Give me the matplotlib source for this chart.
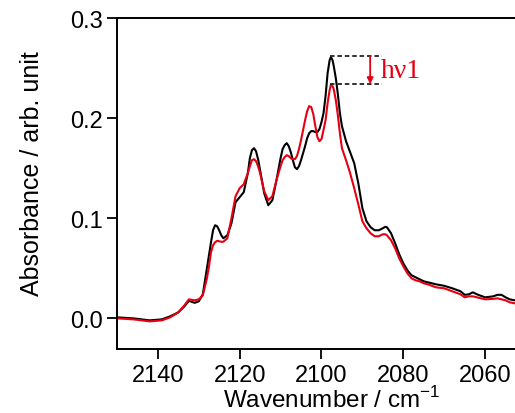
import matplotlib
matplotlib.use("Agg")
import matplotlib.pyplot as plt

plt.rcParams['font.family'] = ['Liberation Sans', 'DejaVu Sans']
plt.rcParams['mathtext.fontset'] = 'custom'
plt.rcParams['mathtext.rm'] = 'Liberation Sans'

wn = [2150, 2146, 2142, 2139, 2137, 2135, 2133.5, 2132.4, 2131, 2130, 2129, 2128,
      2127.5, 2127, 2126.5, 2126, 2125.5, 2125, 2124.5, 2124, 2123, 2122, 2121, 2120, 2119, 2118,
      2117.5, 2117, 2116.5, 2116, 2115.5, 2115, 2114, 2113, 2112, 2111, 2110, 2109.5, 2109, 2108.5,
      2108, 2107.5, 2107, 2106.5, 2106, 2105.5, 2105, 2104,
      2103.5, 2103, 2102.5, 2102, 2101.5, 2101, 2100.5, 2100, 2099.5, 2099, 2098.5, 2098, 2097.7,
      2097.3, 2097, 2096.5, 2096, 2095.5, 2095, 2094, 2093, 2092, 2091, 2090, 2089, 2088, 2087,
      2086, 2085, 2084.4, 2084, 2083, 2082, 2081, 2080,
      2079, 2078, 2077, 2076, 2075, 2074, 2072, 2070, 2068, 2066, 2065, 2064, 2063, 2062, 2060,
      2058, 2057, 2056, 2055, 2054, 2052.7]

# before irradiation (black)
absorb_before = [0.001, 0.000, -0.002, -0.001, 0.002, 0.006, 0.012, 0.0175, 0.0155, 0.017, 0.024, 0.050,
                 0.063, 0.076, 0.088, 0.093, 0.092, 0.088, 0.083, 0.080, 0.083, 0.095, 0.116, 0.121, 0.126, 0.145,
                 0.160, 0.168, 0.170, 0.167, 0.159, 0.148, 0.125, 0.113, 0.118, 0.138, 0.160, 0.169, 0.173, 0.175,
                 0.172, 0.166, 0.158, 0.151, 0.149, 0.152, 0.158, 0.172,
                 0.180, 0.185, 0.187, 0.187, 0.186, 0.186, 0.189, 0.196, 0.205, 0.222, 0.245, 0.258, 0.261,
                 0.258, 0.252, 0.240, 0.224, 0.205, 0.192, 0.177, 0.166, 0.155, 0.135, 0.110, 0.097, 0.091, 0.088,
                 0.088, 0.090, 0.0915, 0.091, 0.085, 0.075, 0.064, 0.055,
                 0.048, 0.043, 0.041, 0.039, 0.037, 0.036, 0.034, 0.0325, 0.030, 0.027, 0.0235, 0.024, 0.026, 0.024, 0.021,
                 0.022, 0.0235, 0.0235, 0.021, 0.019, 0.018]

# after hv1 (red)
absorb_after = [0.000, -0.001, -0.003, -0.002, 0.001, 0.006, 0.013, 0.019, 0.018, 0.019, 0.023, 0.040,
                0.052, 0.066, 0.073, 0.076, 0.0775, 0.077, 0.0765, 0.0765, 0.080, 0.100, 0.122, 0.130, 0.134, 0.145,
                0.152, 0.158, 0.159, 0.157, 0.152, 0.145, 0.127, 0.118, 0.122, 0.138, 0.152, 0.158, 0.161, 0.163,
                0.162, 0.160, 0.159, 0.159, 0.162, 0.169, 0.178, 0.198,
                0.207, 0.212, 0.211, 0.204, 0.192, 0.181, 0.177, 0.179, 0.188, 0.198, 0.215, 0.228, 0.2335,
                0.232, 0.229, 0.218, 0.203, 0.185, 0.170, 0.158, 0.145, 0.130, 0.114, 0.097, 0.090, 0.085, 0.082,
                0.082, 0.084, 0.084, 0.083, 0.078, 0.070, 0.060, 0.052,
                0.045, 0.040, 0.038, 0.037, 0.035, 0.034, 0.031, 0.030, 0.027, 0.024, 0.021, 0.022, 0.022, 0.021, 0.019,
                0.0195, 0.020, 0.019, 0.018, 0.016, 0.015]

peak_wn = 2097.8
peak_hi = 0.2616
peak_lo = 0.234
dash_end = 2085.2
arrow_wn = 2088.1

fig = plt.figure(figsize=(5.15, 4.14), dpi=100)
ax = fig.add_axes([0.227, 0.1546, 0.773, 0.7995])

ax.plot(wn, absorb_before, color='black', lw=1.5, solid_joinstyle='round')
ax.plot(wn, absorb_after, color='#e60012', lw=1.5, solid_joinstyle='round')

# hv1 marker
ax.plot([peak_wn, dash_end], [peak_hi, peak_hi], ls=(0, (2.5, 1.6)), color='#222222', lw=1.3)
ax.plot([peak_wn, dash_end], [peak_lo, peak_lo], ls=(0, (2.5, 1.6)), color='#222222', lw=1.3)
ax.annotate('', xy=(arrow_wn, peak_lo), xytext=(arrow_wn, peak_hi),
            arrowprops=dict(arrowstyle='-|>', color='#e60012', lw=1.3,
                            mutation_scale=9, shrinkA=0, shrinkB=0))
ax.text(dash_end + 0.3, (peak_hi + peak_lo) / 2, 'hν1', color='#e60012',
        fontsize=20, family=['Liberation Serif', 'DejaVu Serif'], va='center', ha='left')

ax.set_xlim(2150, 2052.7)
ax.set_ylim(-0.0306, 0.3)
ax.set_xticks([2140, 2120, 2100, 2080, 2060])
ax.set_yticks([0.0, 0.1, 0.2, 0.3])
ax.set_yticklabels(['0.0', '0.1', '0.2', '0.3'])

ax.spines['right'].set_visible(False)
for s in ['left', 'top', 'bottom']:
    ax.spines[s].set_linewidth(1.4)
ax.tick_params(direction='out', length=7, width=1.3, labelsize=17)
ax.tick_params(axis='y', pad=3)
ax.tick_params(axis='x', pad=4)

ax.set_xlabel('Wavenumber / cm$^{-1}$', fontsize=17.5, labelpad=0)
ax.set_ylabel('Absorbance / arb. unit', fontsize=18, labelpad=19)
ax.xaxis.label.set_x(0.539)
ax.yaxis.label.set_y(0.533)

fig.savefig('out.png', dpi=100)
